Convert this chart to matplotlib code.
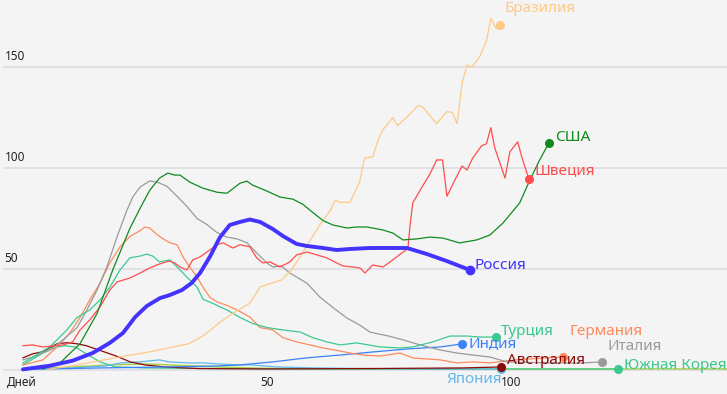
import matplotlib
matplotlib.use("Agg")
import matplotlib.pyplot as plt

plt.rcParams['font.family'] = ['Noto Sans', 'DejaVu Sans']

# ---------------- data (day since start, value) ----------------
russia_days = [0, 5.5, 10.2, 14.3, 17.8, 20.5, 23, 25.4, 28.1, 30.1, 32.6, 34.6, 36.3, 38.3, 40.4, 42.4, 44.5,
               46.5, 48.6, 51.2, 53.3, 56.1, 58.2, 61.5, 64.3, 67, 71.1, 78.7, 82.8, 86.9, 91.6]
russia_vals = [0.3, 2.1, 4.6, 8.4, 13.4, 18.3, 26.2, 31.7, 35.6, 37.1, 39.6, 43.1, 48, 56, 65.8, 71.8, 73.3,
               74.5, 73.3, 69.8, 66.3, 62.4, 61.4, 60.4, 59.4, 59.9, 60.4, 60.4, 57.4, 53.9, 49.5]

brazil_days = [5, 10, 20, 26, 30, 34, 37, 40.6, 43, 46.5, 48.6, 51, 53, 55, 56.8, 58.8, 60.9, 63, 64, 65, 67,
               69, 70, 71.7, 72.8, 73.8, 75.8, 76.8, 79, 81, 82, 84.8, 86.9, 88, 89, 90, 91, 92, 93.6, 95,
               95.9, 97, 97.7]
brazil_vals = [0.3, 2, 6.5, 9, 11, 13, 17, 24, 28, 33, 41, 43, 44.5, 49.5, 56, 64, 72, 79, 84, 83, 83,
               93, 105, 105.5, 114, 119, 125, 121, 126, 131, 130, 122, 128, 127.5, 122, 142, 151, 150, 155,
               163, 174, 169, 171]

usa_days = [4, 7.6, 11.7, 15.2, 18.4, 21.9, 24, 26, 28, 29.7, 31.1, 32.2, 34.2, 36.9, 39.8, 41.8, 44.5, 45.9,
            47.1, 50, 52.7, 55.3, 57.4, 59.4, 61.5, 63.5, 66.4, 68.4, 70.5, 73.8, 75.8, 77.9, 80.7, 83.4,
            86.1, 89.5, 93, 95.7, 98.4, 101.8, 103.9, 105.9, 107.8]
usa_vals = [0.5, 3.5, 13, 28, 49.5, 70, 80, 89, 95, 97.5, 96.5, 96.5, 93, 90, 88, 87.5, 92.5, 93.5,
            91.5, 88.6, 85.6, 84.6, 82, 78, 74, 71.8, 70.3, 70.8, 70.8, 69.3, 67.8, 64.4, 64.9, 65.8,
            65.3, 62.9, 64.4, 66.8, 72.8, 82.7, 94, 104, 112.4]

sweden_days = [0, 2, 4.1, 6.1, 8.2, 10.2, 11.7, 13.7, 15.8, 17.8, 19.3, 21.9, 24, 26, 28, 30.1, 31.1, 32.2,
               33.6, 34.8, 36.3, 38.3, 39.8, 41, 43, 44.5, 46.5, 47.9, 49.2, 50.6, 52.7, 54.7, 56.1, 58.2,
               60.2, 62.3, 64.3, 65.6, 67.6, 69.1, 70.1, 71.7, 73.8, 75.8, 77.9, 78.9, 79.3, 79.9, 81.4,
               83.4, 84.8, 86, 86.9, 88.1, 90, 91, 92.2, 94, 95, 95.9, 96.7, 97.7, 98.8, 99.8, 101.4,
               102.3, 103.7]
sweden_vals = [12, 12.4, 11.4, 11.9, 12.4, 13.9, 19.8, 24.8, 31.2, 39.6, 43.6, 45.5, 48, 50.5, 52.5, 54, 53, 51,
               49.5, 54.5, 56, 59.4, 62, 63, 60.4, 62, 61, 55.5, 53, 53.5, 51, 53.5, 57, 58.4,
               57, 55.5, 53, 51.5, 51, 50.5, 48, 52, 51, 54.5, 58.4, 60, 70.8, 82.7, 89,
               97, 104, 104, 86, 92, 101, 99, 105, 111, 112, 120, 110, 103, 95, 108, 113,
               105, 94.5]

italy_days = [0, 2, 5.5, 8.2, 11.1, 13.1, 15.2, 17.2, 19.3, 21.3, 22.5, 24, 26, 27.5, 29.5, 31.6, 33.6,
              35.7, 37.7, 39.8, 41.8, 43.9, 45.9, 47.9, 50, 51.2, 53, 54.7, 58.2, 60.9, 63.5, 66.4, 69,
              71.1, 72.5, 74.6, 77.9, 81.4, 85.5, 88.9, 92.2, 95.7, 99.2, 108, 114.8, 118.6]
italy_vals = [5, 6.4, 9.9, 14.9, 21, 29.7, 39.6, 51, 66, 79, 85.6, 90.6, 93.6, 93, 91, 86, 81,
              75, 72, 68, 65.8, 64.9, 63, 58, 53, 51, 51.5, 48, 43, 36, 31, 25.7, 22.3,
              18.8, 18, 17, 14.9, 12.4, 9.9, 8.4, 7.4, 6.4, 4, 3.5, 3.5, 4]

germany_days = [0, 4.1, 7, 9.6, 11.7, 13.7, 15.8, 17.8, 19.9, 21.9, 24, 25, 26, 27.5, 28.7, 30.1, 31.6,
                32.8, 34.2, 35.7, 36.9, 38.3, 39.8, 41.8, 43.9, 46.5, 48.6, 51.2, 53.3, 56.1, 58.8, 61.5,
                65, 67, 69.7, 73.2, 77.3, 80, 85.5, 88.9, 92.2, 95.7, 101, 106.6, 110.7]
germany_vals = [2.5, 5, 11.4, 18.3, 26, 34.7, 43, 53, 61, 66, 69, 70.8, 70.3, 67, 65, 63, 62,
                56, 51, 46, 41, 36, 33.7, 32, 29.7, 26.2, 21, 19.8, 16, 13.9, 12.4, 10.9,
                9.4, 8.4, 7.4, 6.9, 8.4, 5.9, 5, 3.5, 4, 3.5, 5, 5.9, 6.4]

turkey_days = [0, 5.5, 9, 11.1, 13.7, 15.8, 17.8, 19.9, 21.9, 24, 25.4, 26.6, 28, 30.1, 31.6, 33.6, 35.7,
               36.9, 38.9, 41.8, 44.5, 47.1, 50, 53.3, 56.8, 59.4, 62.3, 65, 68.4, 73.2, 77.3, 79.9, 84,
               87.5, 91, 93.6, 96.9]
turkey_vals = [3.5, 11.4, 19.8, 26, 29.7, 34.7, 41, 49.5, 55.5, 56.4, 57.4, 56.4, 53.5, 54.5, 51, 46, 41,
               35, 33, 29.7, 26, 23, 21, 19.8, 18.8, 16, 13.9, 12.4, 13.4, 11.4, 10.9, 11.4, 13.9,
               16.8, 16.8, 16.3, 16.3]

india_days = [0, 15.8, 29.5, 39.8, 44.5, 51.2, 58.2, 65, 71.7, 78.7, 85.5, 90]
india_vals = [0.3, 1, 1.5, 2, 2.5, 4, 6, 7.4, 8.9, 10.4, 11.4, 12.9]

korea_days = [0, 4.1, 7, 8.6, 10.7, 12.7, 15.8, 19, 25, 40, 60, 80, 100, 122]
korea_vals = [2.5, 8.4, 11.4, 12, 11.4, 8.4, 4, 1.5, 1, 0.7, 0.5, 0.5, 0.5, 0.5]

australia_days = [0, 2, 4, 7, 9, 11, 13, 16, 19, 22, 25, 29, 36, 50, 70, 90, 98]
australia_vals = [6, 8, 9, 13, 13.5, 13, 12, 9.5, 7, 4, 2.5, 1.5, 0.7, 0.5, 0.7, 1, 1.5]

japan_days = [0, 10, 17, 20, 24, 28, 30, 34, 37, 40, 44, 47, 52, 60, 70, 80, 98]
japan_vals = [0.5, 1, 2, 3.5, 4, 5, 4, 3.5, 3.5, 3, 2.5, 2.5, 1.5, 1, 0.7, 0.5, 0.5]

other_days = [0, 10, 18, 25, 30, 40, 50, 70, 100, 145]
other_vals = [0.5, 1.5, 2.5, 3, 2.5, 1.5, 0.8, 0.5, 0.5, 0.5]

# name, days, values, colour, label offset (px), alignment
series = [
    ("Южная Корея", korea_days, korea_vals, "#3cc88e", (6, 3), "left"),
    ("Япония", japan_days, japan_vals, "#62b8e8", (1, -11), "right"),
    ("Австралия", australia_days, australia_vals, "#8b0a0a", (6, 6), "left"),
    ("Индия", india_days, india_vals, "#3b82f6", (6, 0), "left"),
    ("Германия", germany_days, germany_vals, "#ff8a5c", (6, 26), "left"),
    ("Италия", italy_days, italy_vals, "#9a9a9a", (6, 15), "left"),
    ("Турция", turkey_days, turkey_vals, "#3cc891", (5, 6), "left"),
    ("Бразилия", brazil_days, brazil_vals, "#ffc987", (5, 16), "left"),
    ("Швеция", sweden_days, sweden_vals, "#ff4d4d", (6, 9), "left"),
    ("США", usa_days, usa_vals, "#108a1e", (6, 5), "left"),
]

fig = plt.figure(figsize=(7.27, 3.94), dpi=100)
fig.patch.set_facecolor("#f4f4f4")
ax = fig.add_axes([0, 0, 1, 1])
ax.set_facecolor("#f4f4f4")
ax.set_xlim(-4.7, 144.3)
ax.set_ylim(-11.9, 183.2)
for s in ax.spines.values():
    s.set_visible(False)
ax.set_xticks([])
ax.set_yticks([])

for g in [0, 50, 100, 150]:
    ax.plot([-3.9, 144.3], [g, g], color="#dadae2", lw=1.1, zorder=1)
    if g > 0:
        ax.text(-3.8, g + 2.2, str(g), fontsize=8.5, color="#222222", ha="left", va="bottom")

ax.text(-3.2, -6.4, "Дней", fontsize=8.5, color="#222222", ha="left", va="center")
for t in [50, 100]:
    ax.text(t, -6.4, str(t), fontsize=8.5, color="#222222", ha="center", va="center")

ax.plot(other_days, other_vals, color="#a8cf45", lw=1.0, zorder=2)

for name, d, v, c, off, ha in series:
    ax.plot(d, v, color=c, lw=0.9, zorder=3)
    ax.plot(d[-1], v[-1], "o", color=c, ms=5.5, zorder=4)
    ax.annotate(name, (d[-1], v[-1]), xytext=off, textcoords="offset pixels",
                fontsize=11, color=c, ha=ha, va="center", zorder=5)

c = "#4433ff"
ax.plot(russia_days, russia_vals, color=c, lw=2.8, zorder=6, solid_capstyle="round")
ax.plot(russia_days[-1], russia_vals[-1], "o", color=c, ms=6, zorder=7)
ax.annotate("Россия", (russia_days[-1], russia_vals[-1]), xytext=(5, 5), textcoords="offset pixels",
            fontsize=11, color=c, ha="left", va="center", zorder=8)

fig.savefig("out.png", dpi=100, facecolor=fig.get_facecolor())
